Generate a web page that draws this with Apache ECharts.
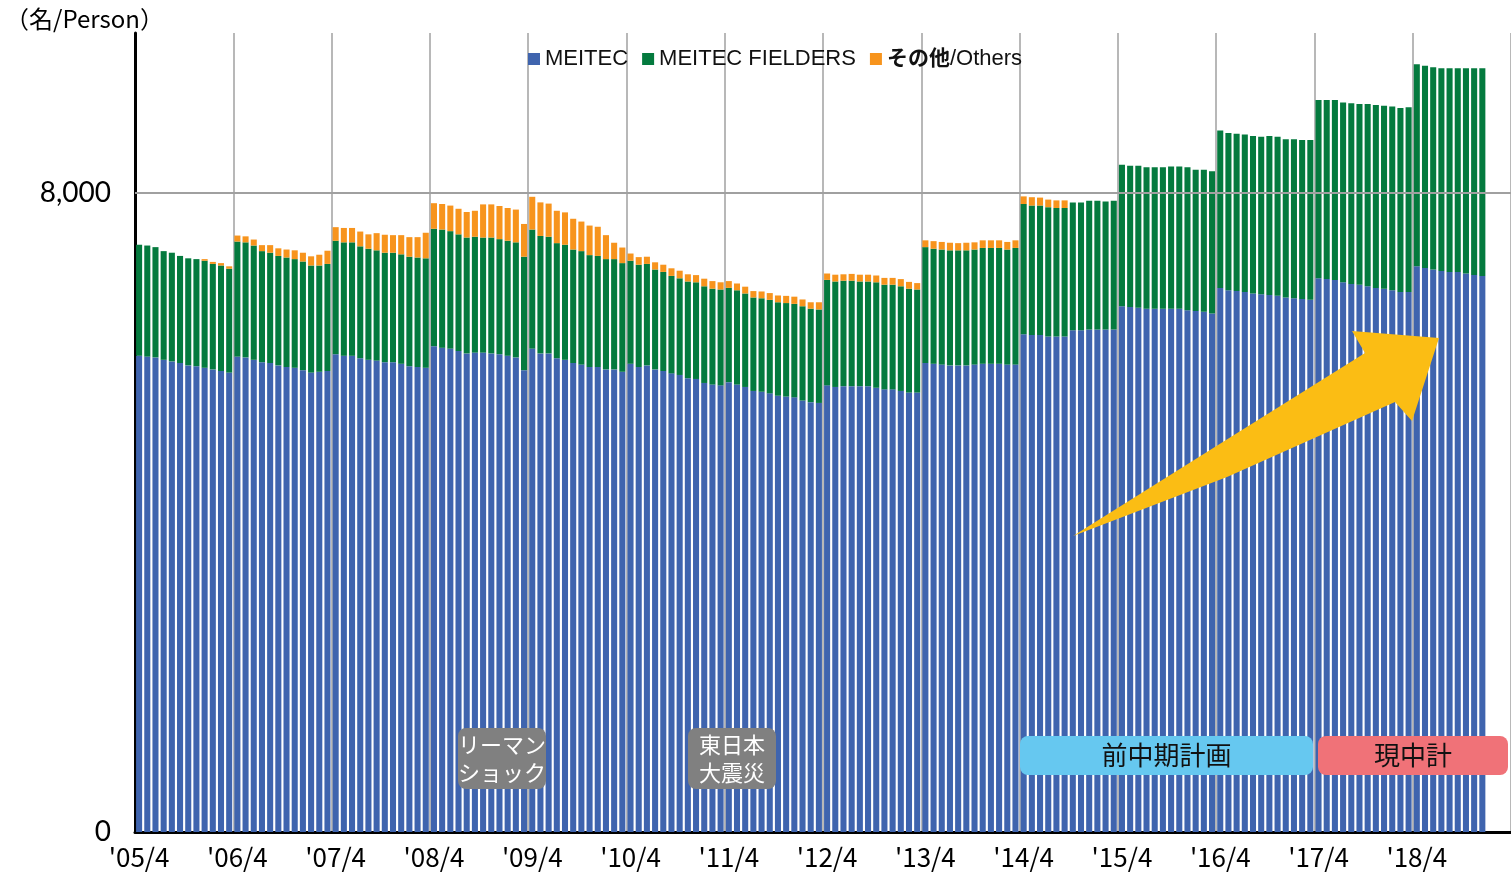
<!DOCTYPE html>
<html>
<head>
<meta charset="utf-8">
<style>
  html, body { margin: 0; padding: 0; background: #fff; }
  #chart { width: 1511px; height: 874px; }
</style>
<script src="https://cdn.jsdelivr.net/npm/echarts@6/dist/echarts.min.js"></script>
</head>
<body>
<div id="chart"></div>
<script>
// 年度の開始月ラベル（4月）
const tickLabels = ["'05/4", "'06/4", "'07/4", "'08/4", "'09/4", "'10/4", "'11/4",
  "'12/4", "'13/4", "'14/4", "'15/4", "'16/4", "'17/4", "'18/4"];

// MEITEC（月次、'05/4〜'18/12）
const meitec = [
  5960, 5950, 5940, 5910, 5890, 5870, 5840, 5830, 5810, 5790, 5770, 5750,
  5950, 5940, 5910, 5880, 5870, 5840, 5820, 5810, 5780, 5750, 5760, 5770,
  5980, 5960, 5960, 5930, 5910, 5900, 5880, 5880, 5860, 5830, 5820, 5810,
  6080, 6060, 6050, 6020, 5990, 6000, 6000, 5990, 5980, 5960, 5940, 5780,
  6050, 5990, 5990, 5930, 5910, 5870, 5850, 5820, 5820, 5790, 5790, 5760,
  5860, 5820, 5840, 5790, 5770, 5740, 5720, 5680, 5670, 5620, 5600, 5590,
  5630, 5600, 5570, 5520, 5510, 5490, 5460, 5450, 5440, 5400, 5380, 5370,
  5590, 5570, 5580, 5580, 5580, 5580, 5560, 5540, 5540, 5520, 5500, 5500,
  5870, 5860, 5850, 5840, 5840, 5840, 5850, 5860, 5860, 5860, 5850, 5850,
  6230, 6220, 6220, 6200, 6200, 6200, 6280, 6280, 6290, 6290, 6290, 6290,
  6580, 6570, 6560, 6550, 6550, 6550, 6550, 6550, 6530, 6520, 6510, 6490,
  6810, 6780, 6770, 6760, 6740, 6730, 6720, 6710, 6690, 6680, 6670, 6660,
  6930, 6920, 6910, 6880, 6860, 6850, 6830, 6810, 6800, 6780, 6760, 6760,
  7080, 7060, 7040, 7020, 7010, 7010, 6990, 6970, 6960
];

// MEITEC FIELDERS
const fielders = [
  1390, 1390, 1380, 1360, 1360, 1340, 1340, 1340, 1340, 1320, 1320, 1300,
  1440, 1440, 1430, 1390, 1380, 1370, 1370, 1360, 1360, 1340, 1330, 1340,
  1420, 1420, 1420, 1400, 1390, 1380, 1370, 1370, 1370, 1370, 1370, 1370,
  1470, 1480, 1470, 1460, 1450, 1450, 1440, 1450, 1440, 1440, 1440, 1420,
  1490, 1470, 1460, 1440, 1440, 1420, 1420, 1400, 1390, 1380, 1380, 1360,
  1290, 1280, 1270, 1250, 1240, 1220, 1210, 1210, 1210, 1210, 1200, 1200,
  1180, 1180, 1170, 1170, 1170, 1170, 1170, 1170, 1170, 1180, 1170, 1170,
  1320, 1320, 1320, 1320, 1310, 1310, 1320, 1310, 1310, 1310, 1300, 1290,
  1450, 1440, 1440, 1440, 1440, 1440, 1440, 1450, 1450, 1450, 1440, 1460,
  1630, 1620, 1620, 1620, 1610, 1610, 1600, 1600, 1610, 1610, 1600, 1610,
  1770, 1770, 1780, 1770, 1770, 1770, 1780, 1780, 1790, 1770, 1780, 1780,
  1970, 1970, 1970, 1970, 1970, 1970, 1990, 1990, 1980, 1990, 1990, 2000,
  2230, 2240, 2250, 2250, 2260, 2260, 2280, 2290, 2290, 2300, 2300, 2310,
  2530, 2530, 2530, 2540, 2550, 2550, 2570, 2590, 2600
];

// その他/Others
const others = [
  0, 0, 0, 0, 0, 0, 0, 0, 20, 25, 30, 30,
  75, 75, 75, 75, 95, 95, 100, 110, 110, 115, 135, 165,
  170, 180, 180, 185, 180, 215, 225, 220, 240, 245, 255, 320,
  320, 320, 320, 320, 320, 325, 415, 415, 415, 410, 410, 410,
  410, 420, 415, 405, 405, 385, 370, 370, 365, 300, 205, 195,
  90, 95, 90, 90, 90, 95, 95, 90, 90, 95, 95, 90,
  85, 85, 85, 80, 85, 85, 85, 90, 90, 85, 80, 90,
  80, 85, 80, 85, 85, 85, 85, 85, 85, 90, 85, 80,
  85, 95, 95, 95, 90, 95, 90, 95, 95, 95, 95, 95,
  95, 105, 100, 95, 95, 95, 0, 0, 0, 0, 0, 0,
  0, 0, 0, 0, 0, 0, 0, 0, 0, 0, 0, 0,
  0, 0, 0, 0, 0, 0, 0, 0, 0, 0, 0, 0,
  0, 0, 0, 0, 0, 0, 0, 0, 0, 0, 0, 0,
  0, 0, 0, 0, 0, 0, 0, 0, 0
];

// 月カテゴリ（'05/4〜'19/3、最後の3か月は空）
const categories = [];
tickLabels.forEach(function (t) {
  const yy = parseInt(t.slice(1, 3), 10);
  for (let i = 0; i < 12; i++) {
    const m = (i + 3) % 12 + 1;
    const y = m < 4 ? yy + 1 : yy;
    categories.push("'" + String(y).padStart(2, '0') + '/' + m);
  }
});

const narrow = '"Liberation Sans Narrow", "Noto Sans CJK JP", sans-serif';
const jp = '"Noto Sans CJK JP", sans-serif';
const arial = '"Liberation Sans", Arial, sans-serif';

const chart = echarts.init(document.getElementById('chart'));

// 注記ラベル（角丸の箱＋文字）
function label(x, y, w, h, color, text, textColor, size) {
  return [
    { type: 'rect', z: 100, shape: { x: x, y: y, width: w, height: h, r: 8 }, style: { fill: color } },
    {
      type: 'text', z: 101, x: x + w / 2, y: y + h / 2,
      style: {
        text: text, fill: textColor, font: size + 'px ' + jp,
        align: 'center', verticalAlign: 'middle', lineHeight: size + 6
      }
    }
  ];
}

const option = {
  animation: false,
  grid: { left: 135, right: 0, top: 33, bottom: 42 },
  legend: {
    top: 41,
    left: 523,
    itemWidth: 12,
    itemHeight: 12,
    itemGap: 14,
    icon: 'rect',
    textStyle: {
      fontFamily: arial,
      fontSize: 22,
      lineHeight: 26,
      color: '#111',
      rich: {
        b: {
          fontFamily: jp, fontWeight: 'bold', fontSize: 21, lineHeight: 26,
          verticalAlign: 'middle', padding: [0, 0, 4, 0], color: '#111'
        },
        n: { fontFamily: arial, fontSize: 22, lineHeight: 26, verticalAlign: 'middle', color: '#111' }
      }
    },
    formatter: function (name) {
      if (name === 'その他/Others') return '{b|その他}{n|/Others}';
      return name;
    }
  },
  xAxis: {
    type: 'category',
    data: categories,
    axisLine: { lineStyle: { color: '#000', width: 3 } },
    axisTick: { show: false },
    axisLabel: {
      interval: 11,
      margin: 12,
      color: '#000',
      fontFamily: narrow,
      fontSize: 26
    },
    splitLine: {
      show: true,
      interval: 11,
      lineStyle: { color: '#a0a0a0', width: 1.5 }
    }
  },
  yAxis: {
    type: 'value',
    min: 0,
    max: 10000,
    interval: 8000,
    axisLine: { show: true, lineStyle: { color: '#000', width: 3 } },
    axisTick: { show: false },
    splitLine: { show: false },
    axisLabel: {
      showMaxLabel: false,
      margin: 24,
      color: '#000',
      fontFamily: 'Lato, "Open Sans", sans-serif',
      fontSize: 28,
      formatter: function (v) { return v.toLocaleString('en-US'); }
    }
  },
  series: [
    {
      name: 'MEITEC',
      type: 'bar',
      stack: 'total',
      barCategoryGap: '26%',
      itemStyle: { color: '#3f64ae' },
      data: meitec,
      markLine: {
        silent: true,
        symbol: 'none',
        label: { show: false },
        lineStyle: { color: '#a0a0a0', width: 2, type: 'solid' },
        data: [{ yAxis: 8000 }]
      }
    },
    {
      name: 'MEITEC FIELDERS',
      type: 'bar',
      stack: 'total',
      barCategoryGap: '26%',
      itemStyle: { color: '#047a3e' },
      data: fielders
    },
    {
      name: 'その他/Others',
      type: 'bar',
      stack: 'total',
      barCategoryGap: '26%',
      itemStyle: { color: '#f7941d' },
      data: others
    }
  ],
  graphic: [
    {
      type: 'text', left: 5, top: 7, z: 100,
      style: { text: '（名/Person）', fill: '#000', font: '24px ' + narrow }
    },
    {
      type: 'polygon', z: 100,
      shape: {
        points: [[1073, 536], [1226, 440], [1365, 353], [1352, 331], [1439, 338],
          [1412, 421], [1395, 402], [1227, 477]]
      },
      style: { fill: '#fbbd14' }
    }
  ].concat(
    label(458, 728, 88, 61, '#808080', 'リーマン\nショック', '#fff', 22),
    label(688, 728, 88, 61, '#808080', '東日本\n大震災', '#fff', 22),
    label(1020, 736, 293, 39, '#66c8f0', '前中期計画', '#111', 26),
    label(1318, 736, 190, 39, '#f07278', '現中計', '#111', 26)
  )
};

chart.setOption(option);
</script>
</body>
</html>
